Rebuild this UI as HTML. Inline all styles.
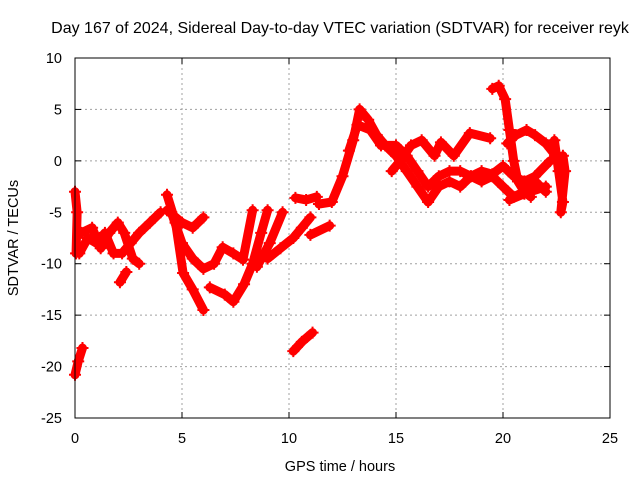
<!DOCTYPE html>
<html><head><meta charset="utf-8"><style>
body{margin:0;background:#fff;}
svg{display:block;font-family:"Liberation Sans",sans-serif;}
</style></head><body>
<svg id="chart" width="640" height="480" viewBox="0 0 640 480">
<text x="340" y="33" font-size="16" text-anchor="middle" fill="#000">Day 167 of 2024, Sidereal Day-to-day VTEC variation (SDTVAR) for receiver reyk</text>
<text x="18" y="238" font-size="14.5" text-anchor="middle" transform="rotate(-90 18 238)">SDTVAR / TECUs</text>
<text x="340" y="471" font-size="14.5" text-anchor="middle">GPS time / hours</text>
<g id="grid"></g>
<g id="series"></g>
<rect x="75" y="58" width="535" height="360" fill="none" stroke="#000" stroke-width="1"/>
</svg>
<script>
const xTicks=[0,5,10,15,20,25];
const yTicks=[10,5,0,-5,-10,-15,-20,-25];
const trackA=[[0,-3],[0.1,-5],[0.05,-9]];
const trackB=[[0.2,-9],[0.6,-7.5],[1.0,-8],[1.4,-7],[1.8,-9],[2.2,-9],[2.6,-8],[3.0,-7],[3.5,-6],[4.0,-5]];
const trackC=[[0.3,-7],[0.8,-6.5],[1.2,-8.5],[1.6,-7],[2.0,-6],[2.3,-7],[2.7,-9.5],[3.0,-10]];
const trackD=[[2.1,-11.8],[2.4,-10.8]];
const trackE=[[0.0,-20.8],[0.15,-19.5],[0.35,-18.2]];
const trackF=[[4.3,-3.3],[4.7,-6],[5.05,-10.9],[5.5,-12.5],[6.0,-14.5]];
const trackG=[[4.3,-4.8],[5,-6],[5.5,-6.5],[6,-5.5]];
const trackH=[[4.5,-5],[5,-8],[5.5,-9.5],[6,-10.5],[6.5,-10],[6.9,-8.4],[7.4,-9],[7.85,-9.6]];
const trackI=[[6.3,-12.3],[7.0,-13],[7.4,-13.7],[7.9,-12],[8.3,-10],[8.7,-7],[9.0,-4.8]];
const trackJ=[[7.85,-9.6],[8.3,-4.8]];
const trackK=[[8.5,-10.3],[9.1,-8],[9.7,-5]];
const trackL=[[9.0,-9.5],[9.6,-8.5],[10.2,-7.5],[10.6,-6.5],[11.0,-5.5]];
const trackM=[[11.0,-7.2],[11.9,-6.3]];
const trackN=[[10.2,-18.5],[10.6,-17.6],[11.1,-16.7]];
const trackO=[[10.3,-3.6],[10.8,-3.8],[11.3,-3.5]];
const trackP=[[11.4,-4.2],[12,-4],[12.5,-1.5],[13,2],[13.3,5],[13.7,4],[14.1,2.5],[14.5,1.5],[15,0.5],[15.5,-1],[16,-2.5],[16.5,-4],[17,-2.5],[17.5,-2],[18,-2.5],[18.5,-1.5],[19,-2],[19.5,-1.5],[20,-2.5],[20.5,-3.5],[21,-3],[21.5,-2],[22,-3]];
const trackQ=[[12.8,1],[13.2,3.5],[13.8,3],[14.3,1.5],[15,1.5],[15.5,0.5],[16,-1],[16.5,-2.5],[17,-1.5],[17.5,-1],[18,-1],[18.5,-1.5],[19,-1],[19.5,-1.3],[20,-0.5],[20.5,-1.5],[21,-2],[21.5,-1.5],[22.2,0]];
const trackR=[[14.8,-1],[15.2,0],[15.7,1.5],[16.2,2],[16.8,0.5],[17.1,1.8],[17.7,0.5],[18.45,2.7],[19.4,2.2]];
const trackS=[[19.5,7],[19.8,7.3],[20.1,6],[20.3,3],[20.5,0],[20.7,-2],[21,-3],[21.3,-3.5]];
const trackT=[[20.2,1.7],[20.6,2.5],[21.1,3],[21.5,2.5],[22,1.7],[22.5,0.4]];
const trackU=[[22.4,2],[22.6,-1],[22.8,-4],[22.7,-5],[22.9,-1],[22.8,0.5]];
const trackV=[[20.3,-3.8],[21,-3.2],[22,-2.5]];
const tracks=[trackA,trackB,trackC,trackD,trackE,trackF,trackG,trackH,trackI,trackJ,trackK,trackL,trackM,trackN,trackO,trackP,trackQ,trackR,trackS,trackT,trackU,trackV];

const X0=75,X1=610,Y0=58,Y1=418,xmin=0,xmax=25,ymin=-25,ymax=10;
const sx=t=>X0+(t-xmin)/(xmax-xmin)*(X1-X0);
const sy=v=>Y1-(v-ymin)/(ymax-ymin)*(Y1-Y0);
const NS="http://www.w3.org/2000/svg";
const grid=document.getElementById('grid');
function mk(tag,attrs,parent){const e=document.createElementNS(NS,tag);for(const k in attrs)e.setAttribute(k,attrs[k]);parent.appendChild(e);return e;}
xTicks.forEach(t=>{
  const x=sx(t);
  if(t>xmin&&t<xmax){const g=mk('line',{x1:x,y1:Y0,x2:x,y2:Y1,stroke:'#a0a0a0','stroke-dasharray':'2,3'},grid);
  
  }
  mk('line',{x1:x,y1:Y1,x2:x,y2:Y1-6,stroke:'#000'},grid);
  mk('line',{x1:x,y1:Y0,x2:x,y2:Y0+6,stroke:'#000'},grid);
  const l=mk('text',{x:x,y:Y1+25,'font-size':14.5,'text-anchor':'middle'},grid);
  l.textContent=t;
  
  
});
yTicks.forEach(v=>{
  const y=sy(v);
  if(v>ymin&&v<ymax){const g=mk('line',{x1:X0,y1:y,x2:X1,y2:y,stroke:'#a0a0a0','stroke-dasharray':'2,3'},grid);
  
  }
  mk('line',{x1:X0,y1:y,x2:X0+6,y2:y,stroke:'#000'},grid);
  mk('line',{x1:X1,y1:y,x2:X1-6,y2:y,stroke:'#000'},grid);
  const l=mk('text',{x:62,y:y+5,'font-size':14.5,'text-anchor':'end'},grid);
  l.textContent=v;
  
  
});
const sg=document.getElementById('series');
tracks.forEach(tr=>{
  const p=mk('polyline',{points:tr.map(d=>sx(d[0])+','+sy(d[1])).join(' '),fill:'none',stroke:'#ff0000','stroke-width':9,'stroke-linejoin':'round','stroke-linecap':'round'},sg);
  
  
  tr.forEach(d=>{
    const m=mk('path',{d:`M${sx(d[0])-6},${sy(d[1])}h12M${sx(d[0])},${sy(d[1])-6}v12`,stroke:'#ff0000','stroke-width':2},sg);
    
    
  });
});
</script>
</body></html>
